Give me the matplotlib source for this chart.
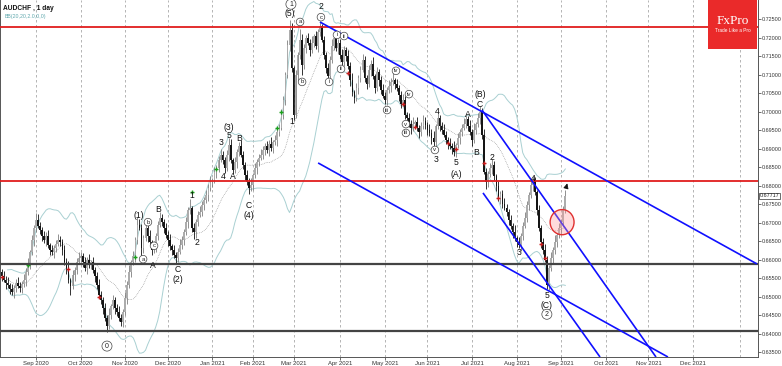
import matplotlib
matplotlib.use("Agg")
import matplotlib.pyplot as plt
from matplotlib.patches import Ellipse, Rectangle
import numpy as np
import pandas as pd

plt.rcParams['font.family'] = ['Liberation Sans', 'DejaVu Sans']

# AUDCHF daily bars from 6 Aug 2020 (prices x 10000), open = previous close
first_open = 6572
closes = """
6566 6555 6545 6536 6531 6520 6512 6523 6536 6528
6523 6533 6545 6566 6587 6620 6652 6685 6706 6690
6679 6663 6652 6663 6639 6625 6620 6631 6642 6652
6647 6625 6593 6577 6545 6528 6558 6571 6593 6604
6609 6593 6577 6598 6585 6593 6571 6555 6531 6504
6490 6468 6441 6420 6450 6474 6490 6468 6458 6441
6431 6458 6496 6531 6566 6593 6609 6652 6693 6685
6631 6658 6685 6663 6647 6625 6636 6663 6693 6712
6701 6685 6666 6652 6636 6625 6612 6604 6620 6639
6652 6674 6701 6733 6739 6685 6674 6701 6720 6728
6747 6760 6774 6793 6809 6815 6836 6847 6869 6882
6869 6847 6882 6909 6869 6842 6863 6890 6906 6882
6855 6828 6809 6793 6801 6828 6847 6863 6874 6882
6896 6906 6896 6912 6901 6917 6923 6944 6955 6990
7031 7098 7179 7220 7117 6990 7098 7152 7193 7125
7171 7198 7186 7166 7186 7204 7177 7215 7231 7193
7152 7117 7096 7139 7177 7198 7171 7186 7152 7133
7166 7150 7123 7085 7052 7036 7063 7090 7112 7139
7090 7074 7112 7128 7096 7063 7106 7085 7058 7042
7031 7058 7069 7080 7085 7074 7063 7044 7020 7031
6990 6982 6966 6955 6966 6971 6955 6944 6960 6974
6963 6950 6942 6928 6917 6961 6982 6961 6950 6936
6923 6914 6906 6901 6890 6909 6928 6944 6955 6966
6979 6961 6944 6923 6950 6966 6982 6998 6936 6836
6809 6831 6847 6855 6825 6798 6766 6777 6750 6739
6728 6706 6690 6674 6658 6647 6639 6663 6690 6712
6747 6774 6801 6815 6782 6733 6685 6647 6625 6598
6531 6577 6604 6625 6647 6666 6685 6701 6733 6771.7
"""
highs = """
6584 6574 6570 6555 6554 6537 6534 6532 6547 6552
6540 6541 6560 6576 6605 6626 6666 6694 6725 6722
6702 6687 6678 6673 6681 6645 6639 6640 6653 6668
6664 6655 6640 6603 6595 6551 6572 6580 6604 6620
6621 6617 6608 6608 6616 6599 6607 6580 6566 6547
6516 6498 6483 6451 6468 6480 6504 6499 6479 6474
6453 6466 6511 6541 6584 6599 6623 6661 6716 6709
6697 6666 6700 6695 6681 6653 6650 6672 6704 6728
6724 6709 6700 6676 6670 6642 6639 6621 6631 6655
6664 6682 6716 6743 6764 6745 6699 6710 6731 6744
6759 6768 6789 6803 6827 6821 6850 6856 6880 6898
6894 6877 6897 6928 6927 6875 6877 6899 6917 6922
6894 6863 6843 6819 6819 6834 6861 6872 6885 6898
6908 6914 6921 6922 6930 6923 6937 6953 6966 7006
7043 7106 7194 7247 7238 7123 7112 7161 7222 7209
7183 7206 7213 7196 7204 7210 7218 7224 7242 7236
7205 7160 7132 7149 7195 7204 7212 7195 7197 7168
7178 7174 7165 7133 7103 7058 7077 7099 7123 7155
7151 7098 7127 7138 7146 7102 7120 7115 7096 7074
7054 7066 7084 7090 7103 7091 7088 7072 7055 7047
7043 6998 6997 6976 6984 6977 6985 6964 6971 6990
6986 6971 6965 6952 6946 6967 6996 6991 6972 6966
6948 6931 6929 6916 6919 6915 6942 6953 6966 6982
6991 6987 6976 6954 6968 6972 6996 7015 7009 6952
6848 6839 6862 6872 6866 6831 6812 6786 6788 6766
6751 6736 6721 6700 6692 6664 6661 6672 6701 6728
6759 6782 6816 6825 6822 6788 6747 6694 6658 6641
6610 6585 6619 6635 6665 6672 6699 6710 6744 6788
"""
lows = """
6556 6541 6538 6520 6522 6508 6504 6497 6512 6522
6513 6509 6526 6529 6557 6575 6612 6637 6674 6684
6669 6649 6645 6636 6630 6613 6612 6605 6620 6636
6637 6611 6586 6561 6536 6505 6520 6543 6560 6587
6594 6579 6570 6561 6576 6573 6563 6540 6520 6498
6480 6454 6434 6404 6411 6438 6466 6453 6447 6435
6421 6417 6451 6480 6522 6554 6585 6594 6641 6679
6608 6617 6651 6647 6638 6613 6617 6621 6652 6687
6691 6671 6659 6636 6627 6613 6604 6589 6593 6614
6629 6638 6667 6685 6724 6673 6655 6659 6690 6714
6718 6733 6753 6758 6784 6797 6807 6821 6836 6863
6859 6833 6840 6866 6860 6830 6834 6848 6879 6876
6845 6814 6802 6777 6784 6789 6820 6832 6852 6868
6872 6882 6889 6880 6892 6889 6909 6908 6933 6949
6980 7017 7091 7163 7108 6978 6982 7083 7141 7100
7115 7157 7179 7150 7157 7174 7169 7162 7204 7187
7142 7103 7089 7080 7130 7165 7163 7156 7141 7127
7123 7136 7116 7069 7043 7024 7028 7048 7079 7106
7080 7060 7067 7096 7087 7051 7055 7070 7047 7036
7021 7017 7051 7053 7071 7062 7055 7029 7009 7014
6980 6968 6959 6939 6946 6954 6947 6929 6933 6954
6953 6936 6935 6912 6908 6905 6953 6946 6939 6930
6913 6900 6899 6885 6881 6878 6901 6913 6933 6949
6956 6947 6937 6907 6914 6938 6958 6967 6925 6830
6790 6795 6824 6831 6816 6786 6758 6751 6739 6733
6718 6692 6683 6658 6649 6635 6631 6624 6652 6684
6702 6733 6767 6785 6773 6721 6677 6632 6614 6592
6521 6517 6570 6588 6616 6635 6658 6670 6690 6727
"""
close = np.array(closes.split(), float) / 10000
high = np.array(highs.split(), float) / 10000
low = np.array(lows.split(), float) / 10000
opn = np.r_[first_open / 10000, close[:-1]]

# indicator arrows (bar, price)
buy_bar = [14, 67, 95, 107, 137, 139]
buy_px = [0.6585, 0.6606, 0.6783, 0.6844, 0.6955, 0.6998]
sell_bar = [1, 34, 49, 172, 199, 205, 221, 225, 239, 246, 267, 269]
sell_px = [0.6552, 0.6574, 0.6498, 0.7104, 0.7020, 0.6958, 0.6915, 0.6898,
           0.6860, 0.6766, 0.6643, 0.6604]

# support / resistance levels
red_levels = [0.7228, 0.6811]
grey_levels = [0.6588, 0.6407]
# trendlines (bar, price) -> (bar, price)
trendlines = [((158.0, 0.7242), (373.5, 0.6588)),
              ((157.1, 0.6861), (329.6, 0.63365)),
              ((237.9, 0.7004), (323.7, 0.63365)),
              ((238.4, 0.6780), (296.1, 0.63365))]

# wave labels: text, bar, price, circled
waves = [("0", 53.0, 0.6366, True), ("(1)", 68.8, 0.6718, False),
         ("a", 70.8, 0.6601, True), ("b", 73.2, 0.6701, True),
         ("c", 76.2, 0.6637, True), ("A", 75.7, 0.6585, False),
         ("B", 78.2, 0.6734, False), ("C", 88.0, 0.6574, False),
         ("(2)", 88.0, 0.6547, False), ("1", 94.9, 0.6774, False),
         ("2", 97.4, 0.6645, False), ("3", 109.2, 0.6915, False),
         ("5", 113.2, 0.6934, False), ("(3)", 113.2, 0.6958, False),
         ("B", 118.1, 0.6926, False), ("4", 110.2, 0.6823, False),
         ("A", 115.1, 0.6823, False), ("C", 123.0, 0.6745, False),
         ("(4)", 123.0, 0.6718, False), ("1", 144.2, 0.6972, False),
         ("1", 143.7, 0.7290, True), ("(5)", 143.2, 0.7266, False),
         ("a", 148.2, 0.7242, True), ("b", 149.2, 0.7080, True),
         ("2", 158.5, 0.7283, False), ("c", 158.5, 0.7255, True),
         ("i", 162.5, 0.7080, True), ("ii", 168.4, 0.7115, True),
         ("i", 166.4, 0.7207, True), ("ii", 169.9, 0.7204, True),
         ("iii", 191.1, 0.7004, True), ("iv", 195.5, 0.7110, True),
         ("iv", 201.9, 0.7047, True), ("v", 200.4, 0.6966, True),
         ("iii", 200.4, 0.6942, True), ("4", 215.7, 0.6999, False),
         ("v", 214.7, 0.6896, True), ("3", 215.2, 0.6869, False),
         ("5", 225.1, 0.6861, False), ("(A)", 225.1, 0.6831, False),
         ("A", 231.0, 0.6993, False), ("B", 235.0, 0.6890, False),
         ("C", 236.9, 0.7020, False), ("(B)", 236.9, 0.7047, False),
         ("2", 242.8, 0.6877, False), ("3", 256.2, 0.6618, False),
         ("4", 263.1, 0.6820, False), ("5", 269.9, 0.6504, False),
         ("(C)", 269.9, 0.6477, False), ("2", 269.9, 0.6452, True)]

# trading days (no bars on 25 Dec and 1 Jan)
dates = pd.bdate_range("2020-08-06", "2022-01-31")
dates = dates[~dates.isin(pd.to_datetime(["2020-12-25", "2021-01-01"]))]
idx = pd.Series(np.arange(len(dates)), index=dates)
month_first = idx.groupby([dates.year, dates.month]).first()

n = len(close)
x = np.arange(n)

fig = plt.figure(figsize=(7.82, 3.66), dpi=100)
ax = fig.add_axes([0.0, 0.0246, 758 / 782, 0.9754])
ax.set_xlim(0.25, 374.0)
ax.set_ylim(0.63365, 0.73014)

# bollinger bands (20, 2.0)
cs = pd.Series(close)
mid = cs.rolling(20, min_periods=5).mean()
sd = cs.rolling(20, min_periods=5).std(ddof=0)
ax.plot(x, mid + 2 * sd, color='#a9d0d2', lw=0.7, zorder=1)
ax.plot(x, mid - 2 * sd, color='#a9d0d2', lw=0.7, zorder=1)
ax.plot(x, mid, color='#8a8a8a', lw=0.5, ls=(0, (1, 1.5)), zorder=1)

# month grid
tick_pos, tick_lab = [], []
for (yr, mo), p in month_first.items():
    if (yr, mo) < (2020, 9):
        continue
    ax.axvline(p, color='#a8a8a8', lw=0.6, ls=(0, (3, 3)), zorder=0)
    if (yr, mo) <= (2021, 12):
        tick_pos.append(p)
        tick_lab.append(pd.Timestamp(yr, mo, 1).strftime('%b %Y'))

# candles
bull = close >= opn
body_lo = np.minimum(opn, close)
body_h = np.maximum(np.abs(close - opn), 0.00004)
ax.vlines(x[bull], low[bull], high[bull], color='#7d7d7d', lw=0.6, zorder=2)
ax.vlines(x[~bull], low[~bull], high[~bull], color='#111111', lw=0.6, zorder=2)
ax.bar(x[bull], body_h[bull], bottom=body_lo[bull], width=0.85, color='#acacac', lw=0, zorder=2)
ax.bar(x[~bull], body_h[~bull], bottom=body_lo[~bull], width=0.85, color='#151515', lw=0, zorder=2)

ax.plot(buy_bar, buy_px, '+', color='#1aa01a', ms=3.5, mew=1.0, zorder=3)
ax.plot(sell_bar, sell_px, '+', color='#c81e1e', ms=3.5, mew=1.0, zorder=3)

for lv in red_levels:
    ax.axhline(lv, color='#e01e1e', lw=1.3, zorder=3)
for lv in grey_levels:
    ax.axhline(lv, color='#444444', lw=1.6, zorder=3)
for (x0, y0), (x1, y1) in trendlines:
    ax.plot([x0, x1], [y0, y1], color='#1010ff', lw=1.2, zorder=4, solid_capstyle='butt')

ax.add_patch(Ellipse((277.4, 0.6701), 11.8, 0.0068, fc=(1, 0.6, 0.6, 0.35),
                     ec='#e03030', lw=1.0, zorder=5))
ax.annotate('', xy=(280.3, 0.6813), xytext=(279.2, 0.6790),
            arrowprops=dict(arrowstyle='-|>,head_width=0.15,head_length=0.3',
                            color='#111', lw=0.6), zorder=6)

for txt, bi, p, circ in waves:
    if circ:
        big = txt.isdigit()
        ax.text(bi, p, txt, ha='center', va='center', fontsize=5.0 if big else 4.3,
                color='#222', zorder=6,
                bbox=dict(boxstyle='circle,pad=0.22', fc='white', ec='#444', lw=0.5))
    else:
        ax.text(bi, p, txt, ha='center', va='center', fontsize=6.2, color='#111', zorder=6)

# axes styling
ax.spines['top'].set_visible(False)
for s in ['left', 'right', 'bottom']:
    ax.spines[s].set_color('#555555')
    ax.spines[s].set_linewidth(0.7)
ax.yaxis.tick_right()
yt = np.arange(0.635, 0.7251, 0.005)
ax.set_yticks(yt)
ax.set_yticklabels([f"{v:.5f}" for v in yt])
ax.set_xticks(tick_pos)
ax.set_xticklabels(tick_lab)
ax.tick_params(axis='x', labelsize=4.3, length=2, width=0.5, pad=1.2, colors='#333333')
ax.tick_params(axis='y', labelsize=3.9, length=2, width=0.5, pad=0.6, colors='#333333')

ax.text(1.002, close[-1], f"{close[-1]:.5f}", transform=ax.get_yaxis_transform(),
        ha='left', va='center', fontsize=3.9, color='#222', zorder=8, clip_on=False,
        bbox=dict(boxstyle='square,pad=0.12', fc='white', ec='#333', lw=0.5))

ax.text(0.004, 0.985, "AUDCHF , 1 day", transform=ax.transAxes, fontsize=4.8,
        fontweight='bold', va='top', ha='left', color='#111')
ax.text(0.006, 0.96, "BB(20,20,2.0,0,0)", transform=ax.transAxes, fontsize=3.8,
        va='top', ha='left', color='#5fa8ad')

# logo
ax.add_patch(Rectangle((708 / 758, 1 - 49 / 357), 49 / 758, 49 / 357, transform=ax.transAxes,
                       fc='#ea2a2a', ec='none', zorder=7, clip_on=False))
ax.text(733 / 758, 1 - 21 / 357, "FxPro", transform=ax.transAxes, ha='center', va='center',
        fontsize=9.5, color='white', family=['Liberation Serif', 'DejaVu Serif'], zorder=8)
ax.text(733 / 758, 1 - 31 / 357, "Trade Like a Pro", transform=ax.transAxes, ha='center',
        va='center', fontsize=3.4, color='white', zorder=8)

fig.savefig("out.png", dpi=100)
